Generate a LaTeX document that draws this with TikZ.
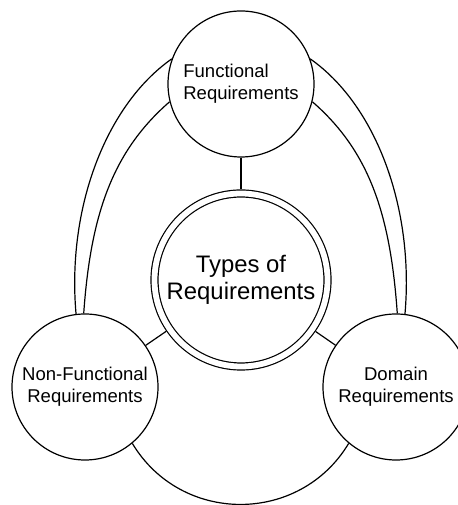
\documentclass[tikz,border=0pt]{standalone}
\usepackage{fontspec}
\setmainfont{Liberation Sans}

\begin{document}
\begin{tikzpicture}[x=0.75pt, y=0.75pt, line width=0.9pt,
    req/.style={circle, draw, minimum size=109.5pt, inner sep=0pt, align=center,
        font=\fontsize{13.9}{16.3}\selectfont},
    hub/.style={circle, draw, double, double distance=4.35pt, outer sep=3.075pt,
        minimum size=129.75pt, inner sep=0pt, align=center,
        font=\fontsize{17.9}{20}\selectfont}]

    \useasboundingbox (0,0) rectangle (457,505);

    \draw(241,421) node[req, align=left] (F) {Functional\\Requirements};
    \draw(241,225) node[hub] (T) {Types of\\Requirements};
    \draw(85,118) node[req] (N) {Non-Functional\\Requirements};
    \draw(396,118) node[req] (D) {Domain\\Requirements};

    \draw (F) -- (T);
    \draw (T) -- (N);
    \draw (T) -- (D);

    \draw (F.160) .. controls +(215:80) and +(95:107) .. (N.97);
    \draw (F.194) .. controls +(221:75) and +(86:100) .. (N.91);
    \draw (F.20) .. controls +(-35:80) and +(85:107) .. (D.83);
    \draw (F.-14) .. controls +(-41:75) and +(94:100) .. (D.89);
    \draw (N.310) .. controls +(-59:95) and +(239:95) .. (D.230);

    \end{tikzpicture}
\end{document}
